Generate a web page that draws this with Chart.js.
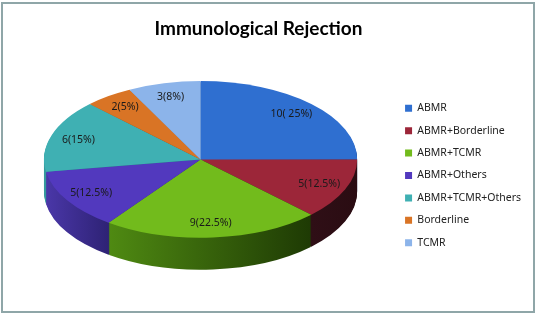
<!DOCTYPE html>
<html>
<head>
<meta charset="utf-8">
<script src="https://cdn.jsdelivr.net/npm/chart.js"></script>
<style>
    html, body { margin: 0; padding: 0; background: #fff; }
    #wrap { position: relative; width: 537px; height: 315px; }
    #frame { position: absolute; left: 1px; top: 2px; width: 530px; height: 307px; border: 2px solid #8fa6a8; }
    canvas { position: absolute; left: 0; top: 0; }
</style>
</head>
<body>
<div id="wrap">
    <canvas id="rejection" width="537" height="315"></canvas>
    <div id="frame"></div>
</div>

<script>
    const chartTitle = "Immunological Rejection";
    const categories = ["ABMR", "ABMR+Borderline", "ABMR+TCMR", "ABMR+Others", "ABMR+TCMR+Others", "Borderline", "TCMR"];
    const counts = [10, 5, 9, 5, 6, 2, 3];
    const sliceLabels = ["10( 25%)", "5(12.5%)", "9(22.5%)", "5(12.5%)", "6(15%)", "2(5%)", "3(8%)"];
    const topColors = ["#2f6fd0", "#9c2639", "#72bb1c", "#5239be", "#3fb0b3", "#d97425", "#8cb4ea"];
    const wallLight = ["#2f6fd0", "#2f0f16", "#4f8a12", "#4a37a8", "#35999c", "#b9621e", "#7a9dcc"];
    const wallDark = ["#1c4280", "#2a0c12", "#1e3a04", "#2e2275", "#247072", "#8a4815", "#5c7aa0"];

    const tilt = 0.5;      // ellipse height / width
    const depth = 32;      // thickness of the pie, px
    const labelAt = 0.82;  // label distance as a share of the radius

    function squash(chart, arc) {
        const a = chart.chartArea;
        const sx = (a.width / 2) / arc.outerRadius;
        return { sx: sx, sy: sx * tilt };
    }

    // draws the pie flat on its side: wall first, then the top through the normal dataset draw
    const tiltedPie = {
        id: "tiltedPie",
        afterLayout(chart) {
            // legend sits lower and further right than the layout puts it, title further left
            chart.legend.left += 36;
            chart.legend.right += 36;
            chart.legend.top += 38;
            chart.legend.bottom += 38;
            chart.titleBlock.left -= 11;
            chart.titleBlock.right -= 11;
        },
        beforeDatasetDraw(chart, args) {
            const ctx = chart.ctx;
            const arcs = args.meta.data;
            const cx = arcs[0].x, cy = arcs[0].y;
            const s = squash(chart, arcs[0]);

            for (let d = depth; d > 0; d--) {
                ctx.save();
                ctx.translate(cx, cy + d);
                ctx.scale(s.sx, s.sy);
                ctx.translate(-cx, -cy);
                arcs.forEach(function (arc, i) {
                    const r = arc.outerRadius;
                    const g = ctx.createLinearGradient(cx + r * Math.min(Math.cos(arc.startAngle), Math.cos(arc.endAngle)), 0,
                                                       cx + r * Math.max(Math.cos(arc.startAngle), Math.cos(arc.endAngle)), 0);
                    g.addColorStop(0, wallLight[i]);
                    g.addColorStop(1, wallDark[i]);
                    const keep = arc.options;
                    arc.options = Object.assign({}, keep, { backgroundColor: g });
                    arc.draw(ctx);
                    arc.options = keep;
                });
                ctx.restore();
            }

            ctx.save();
            ctx.translate(cx, cy);
            ctx.scale(s.sx, s.sy);
            ctx.translate(-cx, -cy);
        },
        afterDatasetDraw(chart) {
            chart.ctx.restore();
        },
        afterDatasetsDraw(chart) {
            const ctx = chart.ctx;
            const arcs = chart.getDatasetMeta(0).data;
            ctx.save();
            ctx.fillStyle = "#1a1a1a";
            ctx.font = "10.5px 'Noto Sans'";
            ctx.textAlign = "center";
            ctx.textBaseline = "middle";
            arcs.forEach(function (arc, i) {
                const s = squash(chart, arc);
                const mid = (arc.startAngle + arc.endAngle) / 2;
                const r = arc.outerRadius * labelAt;
                ctx.fillText(sliceLabels[i], arc.x + Math.cos(mid) * r * s.sx, arc.y + Math.sin(mid) * r * s.sy);
            });
            ctx.restore();
        }
    };

    new Chart(document.getElementById("rejection"), {
        type: "pie",
        data: {
            labels: categories,
            datasets: [{
                data: counts,
                backgroundColor: topColors,
                borderWidth: 0,
                clip: false
            }]
        },
        options: {
            responsive: false,
            animation: false,
            layout: { padding: { left: 44, right: 42, top: 0, bottom: 40 } },
            plugins: {
                tooltip: { enabled: false },
                title: {
                    display: true,
                    text: chartTitle,
                    color: "#000",
                    font: { family: "Lato", size: 19, weight: "bold" },
                    padding: { top: 17, bottom: 4 }
                },
                legend: {
                    position: "right",
                    labels: {
                        boxWidth: 7,
                        boxHeight: 7,
                        padding: 11.9,
                        color: "#222",
                        font: { family: "'Noto Sans'", size: 10.5 }
                    }
                }
            }
        },
        plugins: [tiltedPie]
    });
</script>
</body>
</html>
